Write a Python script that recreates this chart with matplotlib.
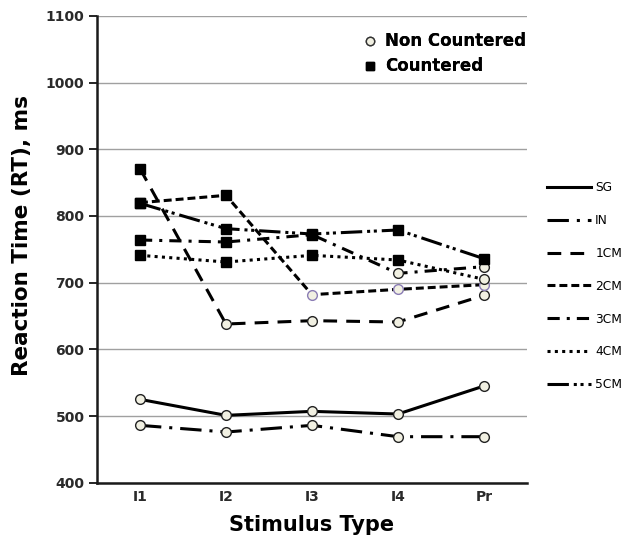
import matplotlib
matplotlib.use("Agg")
import matplotlib.pyplot as plt
from matplotlib.lines import Line2D

# Data
stimuli = ["I1", "I2", "I3", "I4", "Pr"]
groups = ["SG", "IN", "1CM", "2CM", "3CM", "4CM", "5CM"]
rt_sg = [525, 501, 507, 503, 545]
rt_in = [486, 476, 486, 469, 469]
rt_1cm = [871, 638, 643, 641, 681]
rt_2cm = [820, 831, 682, 690, 697]
rt_3cm = [764, 761, 772, 714, 724]
rt_4cm = [741, 731, 741, 734, 705]
rt_5cm = [819, 781, 773, 779, 736]
# True = countered (filled square), False = non countered (open circle)
countered_sg = [False, False, False, False, False]
countered_in = [False, False, False, False, False]
countered_1cm = [True, False, False, False, False]
countered_2cm = [True, True, False, False, False]
countered_3cm = [True, True, True, False, False]
countered_4cm = [True, True, True, True, False]
countered_5cm = [True, True, True, True, True]

yticks = [400, 500, 600, 700, 800, 900, 1000, 1100]

# Line styles (dash patterns in linewidth units)
STYLES = {
    "SG": "-",
    "IN": (0, (7, 2.6, 1, 2.6)),
    "1CM": (0, (4.5, 3)),
    "2CM": (0, (2.6, 1.3)),
    "3CM": (0, (4, 2.3, 1, 2.3)),
    "4CM": (0, (1, 1.4)),
    "5CM": (0, (7, 1.6, 1, 1.2, 1, 1.6)),
}
CIRCLE_FACE = "#f1f0e2"
CIRCLE_EDGE = {"2CM": "#8a7cb4"}
LW = 2.2

fig = plt.figure(figsize=(6.33, 5.38), dpi=100)
ax = fig.add_axes([0.1532, 0.1028, 0.6793, 0.8675])

series = [
    ("SG", rt_sg, countered_sg),
    ("IN", rt_in, countered_in),
    ("1CM", rt_1cm, countered_1cm),
    ("2CM", rt_2cm, countered_2cm),
    ("3CM", rt_3cm, countered_3cm),
    ("4CM", rt_4cm, countered_4cm),
    ("5CM", rt_5cm, countered_5cm),
]

x = list(range(len(stimuli)))
for name, vals, cnt in series:
    ax.plot(x, vals, color="black", lw=LW, linestyle=STYLES[name], zorder=3)
for name, vals, cnt in series:
    for xi, v, c in zip(x, vals, cnt):
        if c:
            ax.plot(xi, v, marker="s", ms=7, mfc="black", mec="black", zorder=5)
        else:
            ax.plot(xi, v, marker="o", ms=7, mfc=CIRCLE_FACE,
                    mec=CIRCLE_EDGE.get(name, "#222222"), mew=1.0, zorder=5)

ax.set_xlim(-0.5, len(stimuli) - 0.5)
ax.set_ylim(400, 1100)
ax.set_yticks(yticks)
ax.set_xticks(x)
ax.set_xticklabels(stimuli)
ax.yaxis.grid(True, color="#a0a0a0", lw=1.0)
ax.set_axisbelow(True)
for s in ("top", "right"):
    ax.spines[s].set_visible(False)
for s in ("left", "bottom"):
    ax.spines[s].set_linewidth(1.8)
    ax.spines[s].set_color("#1a1a1a")
ax.tick_params(axis="y", direction="out", length=6, width=1.2, pad=3,
               labelsize=10, labelcolor="#2a2a2a")
ax.tick_params(axis="x", length=0, pad=5, labelsize=10, labelcolor="#2a2a2a")
for t in ax.get_xticklabels() + ax.get_yticklabels():
    t.set_fontweight("bold")

ax.set_xlabel("Stimulus Type", fontsize=15, fontweight="bold", labelpad=8)
ax.set_ylabel("Reaction Time (RT), ms", fontsize=15.5, fontweight="bold")
ax.yaxis.set_label_coords(-0.15, 0.53)

# Marker legend inside the plot
mk_handles = [
    Line2D([], [], linestyle="none", marker="o", ms=6, mfc=CIRCLE_FACE, mec="#333333"),
    Line2D([], [], linestyle="none", marker="s", ms=6, mfc="black", mec="black"),
]
leg1 = ax.legend(mk_handles, ["Non Countered", "Countered"], loc="upper left",
                 bbox_to_anchor=(0.58, 0.997), frameon=False, handlelength=1.0,
                 handletextpad=0.4, labelspacing=0.42,
                 prop={"size": 12, "weight": "bold"})
ax.add_artist(leg1)

# Line style legend outside on the right
ln_handles = [Line2D([], [], color="black", lw=LW, linestyle=STYLES[g]) for g in groups]
fig.legend(ln_handles, groups, loc="upper left", bbox_to_anchor=(0.864, 0.663),
           frameon=False, handlelength=3.6, handletextpad=0.35, labelspacing=1.62,
           borderaxespad=0, borderpad=0, prop={"size": 8.8})

fig.savefig("out.png", dpi=100)
